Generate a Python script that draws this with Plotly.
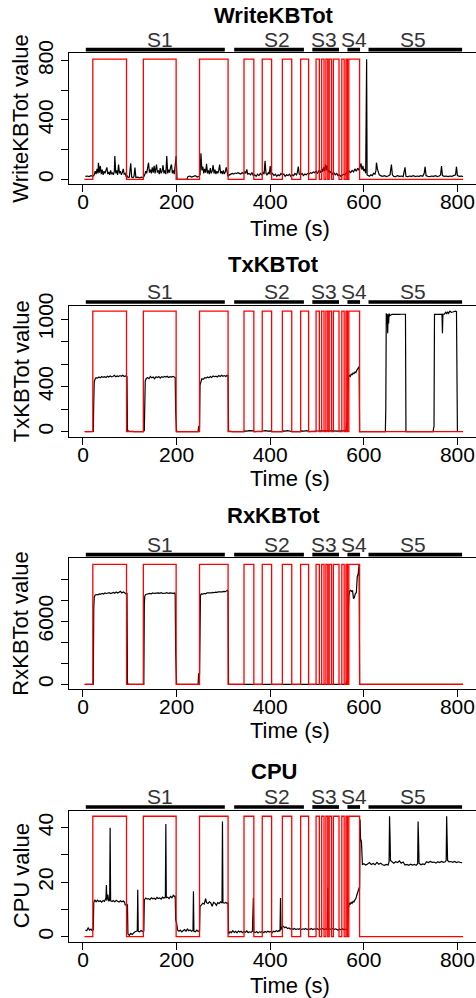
import plotly.graph_objects as go

W, H = 476, 998
FONT = "Liberation Sans, Arial, sans-serif"

# ---------------- data ----------------
seg_names = ["S1", "S2", "S3", "S4", "S5"]
seg_start = [6, 323, 490, 565, 610]
seg_end = [303, 472, 547, 592, 810]
seg_label_t = [165, 414, 515, 580, 706]

red_t = [3, 21, 93, 129, 199, 249, 310, 344, 365, 383, 403, 426, 446, 465, 482,
         498, 505, 510, 515, 519, 523, 526, 531, 535, 547, 553, 558, 562, 565, 568,
         591, 812]
red_state = [0, 1, 0, 1, 0, 1, 0, 1, 0, 1, 0, 1, 0, 1, 0,
             1, 0, 1, 0, 1, 0, 1, 0, 1, 0, 1, 0, 1, 0, 1,
             0, 0]

write_t = [5, 9, 13, 17, 21, 24, 26, 28, 30, 32, 33, 35, 37, 39, 41, 43, 45, 47, 49, 51,
           53, 55, 57, 59, 61, 63, 65, 67, 68, 70, 72, 74, 76, 78, 80, 82, 84, 86, 88, 90,
           92, 94, 96, 99, 102, 104, 107, 109, 111, 113, 117, 121, 125, 129, 132, 134, 136, 138, 140, 142,
           144, 146, 148, 150, 152, 154, 156, 157, 159, 161, 163, 165, 167, 169, 171, 173, 175, 177, 179, 181,
           183, 185, 187, 189, 191, 193, 195, 197, 199, 201, 212, 222, 224, 228, 232, 236, 240, 244, 248, 250,
           252, 254, 256, 258, 260, 262, 264, 266, 268, 270, 272, 274, 276, 278, 280, 282, 284, 286, 288, 290,
           292, 294, 296, 298, 300, 302, 304, 306, 308, 310, 313, 316, 319, 322, 325, 328, 331, 334, 337, 340,
           343, 346, 348, 350, 352, 355, 358, 361, 364, 367, 370, 373, 376, 379, 382, 385, 387, 389, 391, 393,
           396, 398, 400, 402, 405, 408, 411, 414, 417, 420, 423, 426, 429, 432, 435, 438, 441, 444, 447, 450,
           453, 456, 458, 460, 462, 465, 468, 471, 474, 477, 480, 483, 486, 489, 492, 495, 498, 501, 504, 507,
           510, 512, 514, 516, 518, 520, 522, 524, 526, 528, 530, 533, 536, 539, 542, 545, 548, 551, 554, 557,
           560, 563, 566, 569, 572, 575, 578, 581, 584, 587, 590, 592, 594, 596, 598, 600, 602, 604, 606, 607,
           609, 612, 615, 618, 621, 624, 626, 627, 629, 631, 633, 636, 640, 644, 648, 652, 656, 659, 661, 664,
           668, 672, 676, 680, 684, 688, 690, 694, 698, 702, 706, 710, 714, 718, 722, 726, 729, 731, 733, 737,
           741, 745, 749, 753, 757, 761, 764, 766, 768, 772, 776, 780, 784, 788, 792, 796, 798, 800, 804, 808,
           812]
write_v = [20, 22, 18, 24, 20, 30, 55, 35, 70, 40, 112, 45, 90, 35, 65, 30, 55, 40, 60, 80,
           35, 50, 30, 60, 35, 45, 30, 55, 157, 40, 60, 30, 100, 40, 55, 30, 45, 70, 35, 40,
           20, 25, 12, 15, 108, 15, 10, 20, 79, 12, 15, 10, 14, 12, 30, 55, 40, 70, 112, 45,
           65, 40, 80, 45, 90, 40, 70, 100, 45, 60, 35, 75, 40, 55, 95, 40, 60, 35, 157, 40,
           65, 45, 80, 100, 40, 60, 35, 90, 157, 0, 0, 0, 18, 22, 15, 20, 25, 15, 20, 30,
           175, 60, 85, 40, 70, 45, 105, 40, 60, 35, 75, 40, 55, 95, 40, 65, 35, 55, 40, 60,
           100, 40, 55, 35, 60, 35, 50, 80, 30, 20, 30, 38, 40, 35, 42, 38, 45, 40, 35, 45,
           38, 50, 40, 67, 35, 40, 30, 45, 25, 30, 20, 35, 25, 40, 30, 45, 35, 124, 40, 30,
           45, 35, 90, 30, 40, 25, 35, 20, 30, 25, 40, 30, 35, 20, 30, 25, 35, 20, 30, 25,
           40, 30, 45, 85, 35, 30, 40, 25, 35, 30, 40, 35, 45, 40, 50, 45, 55, 40, 60, 45,
           70, 50, 80, 55, 100, 60, 95, 50, 60, 40, 55, 35, 45, 30, 40, 25, 30, 20, 25, 35,
           30, 45, 40, 55, 45, 60, 50, 70, 55, 75, 60, 80, 108, 65, 90, 55, 70, 40, 810, 30,
           25, 20, 30, 25, 40, 35, 60, 112, 70, 40, 30, 25, 20, 25, 18, 22, 30, 100, 30, 20,
           18, 25, 20, 22, 18, 80, 20, 18, 22, 20, 25, 18, 22, 20, 25, 20, 40, 85, 25, 20,
           18, 22, 20, 25, 18, 22, 30, 90, 25, 20, 22, 18, 22, 20, 25, 30, 85, 25, 20, 22,
           18]

tx_t = [5, 20, 22, 23, 24, 26, 28, 31, 34, 37, 40, 43, 46, 49, 52, 55, 58, 61, 64, 67,
        70, 73, 76, 79, 82, 85, 88, 91, 94, 95, 98, 110, 129, 131, 132, 133, 135, 138, 141, 144,
        147, 150, 153, 156, 159, 162, 165, 168, 171, 174, 177, 180, 183, 186, 189, 192, 195, 197, 198, 199,
        200, 230, 246, 247, 249, 250, 252, 254, 257, 260, 263, 266, 269, 272, 275, 278, 281, 284, 287, 290,
        293, 296, 299, 302, 305, 308, 310, 311, 320, 344, 345, 350, 355, 360, 365, 366, 383, 384, 390, 395,
        400, 403, 426, 427, 432, 437, 442, 446, 465, 466, 472, 478, 482, 498, 500, 510, 520, 530, 545, 562,
        563, 564, 565, 566, 567, 569, 571, 573, 575, 577, 579, 581, 583, 585, 587, 589, 590, 591, 646, 647,
        648, 649, 650, 651, 652, 653, 654, 656, 660, 665, 670, 675, 680, 685, 689, 690, 748, 749, 750, 751,
        755, 760, 765, 767, 768, 769, 772, 775, 777, 779, 781, 784, 787, 790, 793, 796, 798, 799, 800]
tx_v = [0, 0, 2, 270, 440, 470, 480, 475, 485, 478, 490, 482, 488, 480, 492, 485, 495, 487, 490, 500,
        488, 495, 490, 498, 492, 500, 490, 495, 488, 10, 5, 0, 0, 10, 355, 450, 470, 480, 470, 490,
        478, 485, 470, 488, 480, 490, 475, 488, 482, 490, 485, 492, 480, 488, 484, 490, 486, 480, 177, 60,
        0, 0, 0, 44, 40, 414, 460, 470, 465, 480, 475, 485, 478, 490, 482, 495, 488, 492, 485, 498,
        490, 500, 492, 498, 490, 500, 495, 5, 0, 0, 8, 5, 10, 6, 8, 0, 0, 6, 10, 5,
        8, 0, 0, 8, 5, 10, 6, 0, 0, 8, 5, 10, 0, 0, 6, 8, 5, 8, 5, 10,
        77, 40, 266, 380, 480, 500, 490, 510, 505, 520, 515, 530, 525, 545, 555, 570, 577, 0, 0, 207,
        1050, 1000, 1045, 873, 1040, 960, 1048, 1030, 1042, 1040, 1043, 1041, 1042, 1040, 1042, 0, 0, 30, 44, 1042,
        1040, 1042, 1041, 1042, 873, 1042, 1043, 1060, 1045, 1065, 1050, 1070, 1060, 1062, 1065, 1070, 1065, 500, 0]

rx_t = [5, 22, 23, 24, 26, 29, 32, 35, 38, 41, 44, 47, 50, 53, 56, 59, 62, 65, 68, 71,
        74, 77, 80, 83, 86, 89, 92, 94, 95, 97, 130, 131, 132, 134, 137, 140, 143, 146, 149, 152,
        155, 158, 161, 164, 167, 170, 173, 176, 179, 182, 185, 188, 191, 194, 196, 197, 198, 199, 200, 246,
        247, 249, 250, 251, 253, 256, 259, 262, 265, 268, 271, 274, 277, 280, 283, 286, 289, 292, 295, 298,
        301, 304, 307, 309, 310, 311, 562, 563, 564, 566, 567, 568, 570, 572, 574, 576, 578, 580, 582, 584,
        586, 588, 590, 591, 812]
rx_v = [0, 0, 7238, 8300, 8500, 8550, 8520, 8600, 8580, 8650, 8600, 8700, 8650, 8680, 8720, 8650, 8700, 8750, 8680, 8800,
        8700, 8750, 8850, 8700, 8800, 8720, 8600, 8700, 100, 0, 0, 7550, 8400, 8550, 8600, 8580, 8650, 8620, 8700, 8650,
        8680, 8640, 8700, 8660, 8720, 8650, 8700, 8680, 8720, 8650, 8700, 8680, 8720, 8650, 8700, 8500, 2950, 1200, 0, 0,
        1045, 900, 8030, 8500, 8600, 8580, 8650, 8620, 8700, 8680, 8720, 8700, 8750, 8720, 8780, 8750, 8800, 8780, 8820, 8800,
        8850, 8820, 8900, 8950, 8800, 0, 0, 300, 0, 0, 7076, 8400, 8900, 8950, 8850, 8900, 8160, 8300, 8667, 8700,
        10250, 10500, 11430, 0, 0]

cpu_t = [5, 8, 11, 14, 17, 20, 22, 23, 25, 28, 31, 34, 37, 40, 43, 46, 49, 50, 51, 53,
         55, 57, 58, 59, 62, 65, 68, 71, 74, 77, 80, 83, 86, 89, 90, 93, 95, 96, 99, 102,
         105, 108, 111, 114, 116, 117, 118, 121, 124, 127, 130, 131, 134, 137, 140, 143, 146, 149, 152, 155,
         158, 161, 164, 167, 170, 173, 176, 177, 178, 181, 184, 187, 190, 193, 196, 197, 198, 200, 202, 205,
         208, 211, 214, 217, 220, 223, 226, 229, 232, 235, 236, 237, 240, 243, 246, 249, 250, 253, 256, 259,
         262, 264, 267, 270, 273, 276, 279, 282, 285, 288, 291, 294, 297, 298, 299, 302, 305, 308, 310, 311,
         314, 317, 320, 323, 326, 329, 332, 335, 338, 341, 344, 347, 350, 353, 356, 359, 362, 364, 365, 368,
         371, 374, 377, 380, 383, 386, 389, 392, 395, 398, 401, 404, 407, 410, 413, 416, 419, 421, 422, 423,
         425, 428, 431, 434, 437, 440, 443, 446, 449, 452, 455, 458, 461, 464, 467, 470, 473, 476, 479, 482,
         485, 488, 491, 494, 497, 500, 503, 506, 509, 512, 515, 518, 521, 522, 523, 524, 527, 530, 533, 536,
         539, 542, 545, 548, 551, 554, 557, 560, 563, 565, 566, 567, 569, 571, 573, 575, 577, 579, 581, 583,
         585, 587, 589, 590, 591, 592, 593, 595, 596, 597, 600, 604, 608, 612, 616, 620, 624, 628, 632, 636,
         640, 644, 648, 652, 654, 655, 656, 657, 660, 664, 668, 672, 676, 680, 684, 688, 692, 696, 700, 704,
         708, 712, 715, 716, 717, 718, 722, 726, 730, 734, 738, 742, 746, 750, 754, 758, 762, 766, 770, 774,
         776, 777, 778, 779, 782, 786, 790, 794, 798, 802, 806, 810]
cpu_v = [2.5, 2.2, 3.2, 2.4, 2.8, 2.2, 2.6, 12.5, 13.5, 12.8, 13.4, 12.9, 13.2, 12.7, 13.3, 13.0, 14.2, 19.0, 13.2, 15.5,
         13.0, 13.5, 40.0, 13.2, 12.9, 13.3, 12.8, 13.4, 13.0, 12.7, 13.2, 12.8, 13.1, 12.6, 11.7, 11.5, 11.8, 1.0, 0.5, 1.2,
         0.8, 1.5, 1.8, 2.0, 2.2, 17.2, 2.0, 1.8, 2.3, 1.9, 2.1, 13.5, 14.2, 13.8, 14.0, 13.6, 14.3, 13.9, 14.1, 13.7,
         14.4, 14.0, 14.2, 13.8, 14.5, 14.1, 14.6, 41.4, 14.3, 14.5, 14.0, 14.8, 14.3, 15.2, 14.6, 15.0, 6.2, 5.0, 2.5, 2.0,
         2.4, 1.8, 2.2, 2.6, 2.0, 2.8, 2.2, 2.5, 2.0, 2.3, 16.7, 2.0, 1.8, 2.4, 2.0, 2.2, 11.0, 11.8, 12.3, 12.0,
         14.0, 12.5, 12.2, 12.8, 12.4, 11.2, 12.6, 12.3, 11.5, 12.5, 12.2, 12.8, 12.4, 42.3, 12.5, 12.3, 12.6, 12.2, 12.5, 1.0,
         1.8, 1.5, 2.2, 1.6, 2.0, 1.4, 2.1, 1.7, 2.0, 1.5, 1.9, 1.6, 2.1, 1.5, 1.8, 1.6, 2.0, 14.2, 1.8, 1.5,
         1.9, 1.4, 1.8, 1.6, 2.0, 1.5, 1.9, 1.6, 2.0, 1.7, 1.9, 1.5, 2.0, 1.8, 2.2, 1.9, 2.3, 2.0, 14.2, 2.5,
         3.5, 3.8, 3.3, 3.6, 3.0, 3.2, 2.8, 3.0, 2.7, 3.0, 2.6, 2.9, 2.7, 3.0, 2.6, 2.9, 2.7, 3.0, 2.6, 2.9,
         2.7, 3.0, 2.6, 2.9, 2.7, 3.0, 2.6, 2.9, 2.7, 3.0, 2.6, 2.9, 2.7, 3.0, 18.1, 2.6, 2.9, 2.7, 3.0, 2.6,
         2.9, 2.7, 2.4, 2.8, 2.5, 2.9, 2.6, 2.8, 2.5, 2.7, 9.3, 10.5, 12.4, 11.8, 12.6, 12.2, 13.0, 12.8, 13.5, 14.0,
         15.2, 16.5, 17.5, 17.9, 17.9, 43.0, 36.0, 34.8, 27.0, 26.5, 26.8, 26.3, 26.7, 27.2, 26.5, 26.9, 26.4, 27.3, 26.6, 27.0,
         26.4, 26.2, 26.5, 26.3, 27.5, 44.2, 37.0, 28.0, 27.6, 27.0, 27.5, 27.2, 27.8, 27.0, 27.4, 26.3, 26.5, 26.2, 26.6, 26.3,
         26.5, 26.2, 26.8, 42.3, 35.4, 27.0, 26.4, 26.7, 26.5, 27.5, 27.2, 27.6, 27.3, 27.4, 27.0, 27.5, 27.2, 27.6, 27.3, 27.5,
         28.0, 44.2, 36.0, 28.0, 27.5, 27.6, 27.3, 27.6, 27.2, 27.5, 27.3, 27.2]

x_ticks = [0, 200, 400, 600, 800]

panel_titles = ["WriteKBTot", "TxKBTot", "RxKBTot", "CPU"]
panel_ylabels = ["WriteKBTot value", "TxKBTot value", "RxKBTot value", "CPU value"]
panel_t = [write_t, tx_t, rx_t, cpu_t]
panel_v = [write_v, tx_v, rx_v, cpu_v]
y_tickvals = [[0, 200, 400, 600, 800],
              [0, 200, 400, 600, 800, 1000],
              [0, 2000, 4000, 6000, 8000, 10000],
              [0, 10, 20, 30, 40]]
y_ticktext = [["0", "", "400", "", "800"],
              ["0", "", "400", "", "", "1000"],
              ["0", "", "", "6000", "", ""],
              ["0", "", "20", "", "40"]]
y_ranges = [[-31.7, 849.6], [-44.4, 1118], [-448, 12000], [-1.83, 46.24]]

# ---------------- layout geometry (pixels) ----------------
box_top = [53.3, 305.7, 558.3, 810.7]
box_bot = [184.0, 436.7, 689.0, 941.7]
title_y = [15.5, 264.0, 515.7, 771.3]
xlab_y = [228.5, 478.5, 730.5, 985.0]
box_left = 69
x_range = [-29.9, 839.7]


def py(px):
    return 1 - px / H


fig = go.Figure()
layout = dict(width=W, height=H, margin=dict(l=0, r=0, t=0, b=0, pad=0, autoexpand=False),
              autosize=False, template="none",
              paper_bgcolor="white", plot_bgcolor="white", showlegend=False,
              font=dict(family=FONT, size=21, color="black"))
shapes = []
annotations = []

for i in range(4):
    n = "" if i == 0 else str(i + 1)
    xa, ya = "x" + n, "y" + n
    ymax = max(panel_v[i])
    fig.add_trace(go.Scatter(x=panel_t[i], y=panel_v[i], mode="lines",
                             line=dict(color="black", width=1.2),
                             xaxis=xa, yaxis=ya, hoverinfo="skip"))
    fig.add_trace(go.Scatter(x=red_t, y=[s * ymax for s in red_state], mode="lines",
                             line=dict(color="#FF0000", width=1.3, shape="hv"),
                             xaxis=xa, yaxis=ya, hoverinfo="skip"))
    layout["xaxis" + n] = dict(domain=[box_left / W, 1], range=x_range, anchor=ya,
                               automargin=False, ticklabelstandoff=-8,
                               tickvals=x_ticks, ticktext=[str(v) for v in x_ticks],
                               ticks="outside", ticklen=7, tickwidth=1, tickcolor="black",
                               showline=True, linecolor="black", linewidth=1, mirror=True,
                               showgrid=False, zeroline=False,
                               tickfont=dict(family=FONT, size=21, color="black"))
    layout["yaxis" + n] = dict(domain=[py(box_bot[i]), py(box_top[i])], range=y_ranges[i],
                               anchor=xa, automargin=False,
                               tickvals=y_tickvals[i], ticktext=y_ticktext[i],
                               tickangle=-90, ticks="outside", ticklen=7, tickwidth=1,
                               tickcolor="black", showline=True, linecolor="black", linewidth=1,
                               showgrid=False, zeroline=False,
                               tickfont=dict(family=FONT, size=21, color="black"))
    # segment bars and labels
    bar_y = py(box_top[i] - 3.7)
    for k in range(len(seg_names)):
        shapes.append(dict(type="line", xref=xa, yref="paper", x0=seg_start[k], x1=seg_end[k],
                           y0=bar_y, y1=bar_y, line=dict(color="black", width=3.7)))
        annotations.append(dict(text=seg_names[k], xref=xa, yref="paper", x=seg_label_t[k],
                                y=py(box_top[i] - 14), xanchor="center", yanchor="middle",
                                showarrow=False, font=dict(family=FONT, size=21, color="#333333")))
    # titles
    annotations.append(dict(text="<b>" + panel_titles[i] + "</b>", xref="paper", yref="paper",
                            x=273.5 / W, y=py(title_y[i]), xanchor="center", yanchor="middle",
                            showarrow=False, font=dict(family=FONT, size=22, color="black")))
    annotations.append(dict(text="Time (s)", xref="paper", yref="paper",
                            x=290 / W, y=py(xlab_y[i]), xanchor="center", yanchor="middle",
                            showarrow=False, font=dict(family=FONT, size=22, color="black")))
    annotations.append(dict(text=panel_ylabels[i], xref="paper", yref="paper", textangle=-90,
                            x=21 / W, y=py((box_top[i] + box_bot[i]) / 2), xanchor="center",
                            yanchor="middle", showarrow=False,
                            font=dict(family=FONT, size=22, color="black")))

layout["shapes"] = shapes
layout["annotations"] = annotations
fig.update_layout(**layout)
fig.write_html("out.html", config={"displayModeBar": False, "staticPlot": True},
               post_script="document.body.style.margin='0';document.body.style.overflow='hidden';")
